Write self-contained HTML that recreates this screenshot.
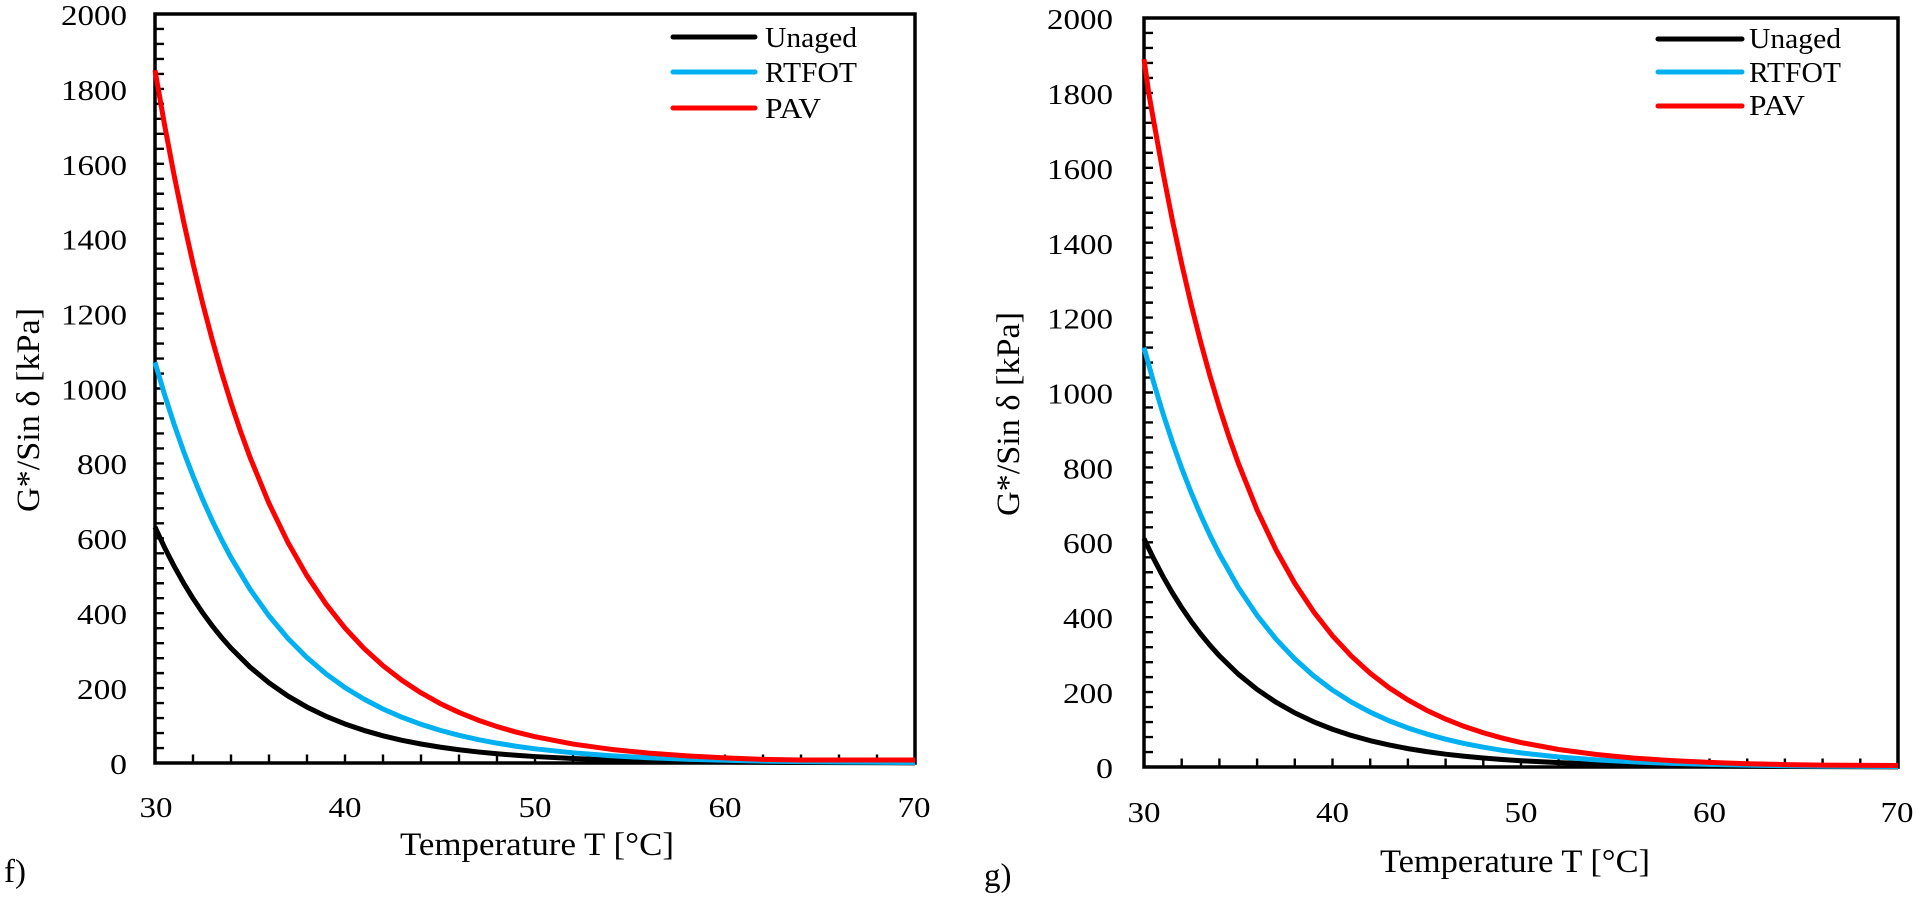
<!DOCTYPE html>
<html>
<head>
<meta charset="utf-8">
<style>
  html, body { margin: 0; padding: 0; background: #ffffff; }
  svg { display: block; }
  text { font-family: "Liberation Serif", "Times New Roman", serif; fill: #000; }
</style>
</head>
<body>
<svg width="1916" height="902" viewBox="0 0 1916 902" xmlns="http://www.w3.org/2000/svg">
  <rect x="0" y="0" width="1916" height="902" fill="#ffffff"/>

  <!-- ================= LEFT PLOT (f) ================= -->
  <path d="M159.5 763 V14" stroke="#000" stroke-width="9" fill="none" stroke-dasharray="2.4 12.58" stroke-dashoffset="1.2"/>
  <path d="M155 758.5 H915" stroke="#000" stroke-width="8" fill="none" stroke-dasharray="2.4 35.6" stroke-dashoffset="1.2"/>
  <rect x="155" y="14" width="760" height="749" fill="none" stroke="#000" stroke-width="3.5"/>

  <g transform="translate(155,763) scale(19,-0.3745)" fill="none" stroke-width="5" stroke-linejoin="round">
    <path vector-effect="non-scaling-stroke" stroke="#000000"
      d="M0 630 L0.5 575.8 L1 526.2 L1.5 480.9 L2 439.5 L2.5 401.7 L3 367.1 L3.5 335.5 L4 306.7 L5 256.2 L6 214 L7 178.7 L8 149.3 L9 124.7 L10 104.2 L11 87 L12 72.7 L13 60.7 L14 50.7 L15 42.4 L16 35.4 L17 29.5 L18 24.7 L19 20.6 L20 17.2 L22 12 L24 8.4 L26 5.8 L28 4.1 L30 2.8 L34 1.4 L40 0.5"/>
    <path vector-effect="non-scaling-stroke" stroke="#00b0f0"
      d="M0 1070 L0.5 984.3 L1 905.4 L1.5 832.9 L2 766.2 L2.5 704.8 L3 648.4 L3.5 596.5 L4 548.6 L5 464.2 L6 392.8 L7 332.4 L8 281.3 L9 238 L10 201.4 L11 170.5 L12 144.2 L13 122.1 L14 103.3 L15 87.4 L16 74 L17 62.6 L18 53 L19 44.8 L20 37.9 L22 27.2 L24 19.5 L26 13.9 L28 10 L30 7.2 L32 5.1 L34 3.7 L36 2.6 L38 1.9 L40 1.3"/>
    <path vector-effect="non-scaling-stroke" stroke="#ff0000"
      d="M0 1850 L0.5 1704.7 L1 1570.8 L1.5 1447.4 L2 1333.7 L2.5 1228.9 L3 1132.4 L3.5 1043.4 L4 961.5 L4.5 886 L5 816.4 L6 693.2 L7 588.6 L8 499.8 L9 424.4 L10 360.3 L11 305.9 L12 259.8 L13 220.6 L14 187.3 L15 159 L16 135 L17 114.6 L18 97.3 L19 82.6 L20 70.2 L22 50.6 L24 36.5 L26 26.3 L28 18.9 L30 13.6 L32 9.8 L34 8 L40 8"/>
  </g>

  <g font-size="29" text-anchor="end">
    <text x="127" y="774" textLength="17" lengthAdjust="spacingAndGlyphs">0</text>
    <text x="127" y="699" textLength="50" lengthAdjust="spacingAndGlyphs">200</text>
    <text x="127" y="624" textLength="50" lengthAdjust="spacingAndGlyphs">400</text>
    <text x="127" y="549" textLength="50" lengthAdjust="spacingAndGlyphs">600</text>
    <text x="127" y="474" textLength="50" lengthAdjust="spacingAndGlyphs">800</text>
    <text x="127" y="399.5" textLength="66" lengthAdjust="spacingAndGlyphs">1000</text>
    <text x="127" y="324.6" textLength="66" lengthAdjust="spacingAndGlyphs">1200</text>
    <text x="127" y="249.7" textLength="66" lengthAdjust="spacingAndGlyphs">1400</text>
    <text x="127" y="174.8" textLength="66" lengthAdjust="spacingAndGlyphs">1600</text>
    <text x="127" y="99.9" textLength="66" lengthAdjust="spacingAndGlyphs">1800</text>
    <text x="127" y="25" textLength="66" lengthAdjust="spacingAndGlyphs">2000</text>
  </g>
  <g font-size="29" text-anchor="middle">
    <text x="156" y="817" textLength="33" lengthAdjust="spacingAndGlyphs">30</text>
    <text x="345" y="817" textLength="33" lengthAdjust="spacingAndGlyphs">40</text>
    <text x="535" y="817" textLength="33" lengthAdjust="spacingAndGlyphs">50</text>
    <text x="725" y="817" textLength="33" lengthAdjust="spacingAndGlyphs">60</text>
    <text x="914" y="817" textLength="33" lengthAdjust="spacingAndGlyphs">70</text>
  </g>
  <text x="537" y="855" font-size="33" text-anchor="middle" textLength="274" lengthAdjust="spacingAndGlyphs">Temperature T [°C]</text>
  <text transform="translate(39,410) rotate(-90)" x="0" y="0" font-size="33" text-anchor="middle" textLength="204" lengthAdjust="spacingAndGlyphs">G*/Sin δ [kPa]</text>
  <text x="4" y="882" font-size="33">f)</text>

  <g stroke-width="5" stroke-linecap="round">
    <line x1="673" y1="37" x2="755" y2="37" stroke="#000000"/>
    <line x1="673" y1="72" x2="755" y2="72" stroke="#00b0f0"/>
    <line x1="673" y1="108" x2="755" y2="108" stroke="#ff0000"/>
  </g>
  <g font-size="29">
    <text x="765" y="47" textLength="92" lengthAdjust="spacingAndGlyphs">Unaged</text>
    <text x="765" y="82" textLength="92" lengthAdjust="spacingAndGlyphs">RTFOT</text>
    <text x="765" y="118" textLength="56" lengthAdjust="spacingAndGlyphs">PAV</text>
  </g>

  <!-- ================= RIGHT PLOT (g) ================= -->
  <path d="M1148.5 767 V18" stroke="#000" stroke-width="9" fill="none" stroke-dasharray="2.4 12.58" stroke-dashoffset="1.2"/>
  <path d="M1144 762.5 H1898" stroke="#000" stroke-width="8" fill="none" stroke-dasharray="2.4 35.3" stroke-dashoffset="1.2"/>
  <rect x="1144" y="18" width="754" height="749" fill="none" stroke="#000" stroke-width="3.5"/>

  <g transform="translate(1144,767) scale(18.85,-0.3745)" fill="none" stroke-width="5" stroke-linejoin="round">
    <path vector-effect="non-scaling-stroke" stroke="#000000"
      d="M0 610 L0.5 557.5 L1 509.5 L1.5 465.6 L2 425.6 L2.5 389 L3 355.5 L3.5 324.9 L4 296.9 L5 248 L6 207.2 L7 173 L8 144.5 L9 120.7 L10 100.8 L11 84.2 L12 70.4 L13 58.8 L14 49.1 L15 41 L16 34.2 L17 28.6 L18 23.9 L19 20 L20 16.7 L22 11.6 L24 8.1 L26 5.7 L28 3.9 L30 2.8 L34 1.3 L40 0.4"/>
    <path vector-effect="non-scaling-stroke" stroke="#00b0f0"
      d="M0 1120 L0.5 1028.9 L1 945.3 L1.5 868.4 L2 797.8 L2.5 732.9 L3 673.4 L3.5 618.6 L4 568.3 L5 479.7 L6 404.8 L7 341.7 L8 288.4 L9 243.4 L10 205.4 L11 173.4 L12 146.3 L13 123.5 L14 104.2 L15 88 L16 74.2 L17 62.7 L18 52.9 L19 44.6 L20 37.7 L22 26.8 L24 19.1 L26 13.6 L28 9.7 L30 6.9 L32 4.9 L34 3.5 L36 2.5 L40 1.3"/>
    <path vector-effect="non-scaling-stroke" stroke="#ff0000"
      d="M0 1890 L0.25 1800 L0.5 1728.5 L1 1589.3 L1.5 1461.3 L2 1343.5 L2.5 1235.3 L3 1135.8 L3.5 1044.3 L4 960.1 L4.5 882.7 L5 811.7 L6 686.2 L7 580.1 L8 490.4 L9 414.5 L10 350.4 L11 296.3 L12 250.4 L13 211.7 L14 179 L15 151.3 L16 127.9 L17 108.1 L18 91.4 L19 77.3 L20 65.3 L22 46.7 L24 33.4 L26 23.8 L28 17 L30 12.2 L32 8.7 L34 6.5 L36 5 L40 4"/>
  </g>

  <g font-size="29" text-anchor="end">
    <text x="1113" y="778" textLength="17" lengthAdjust="spacingAndGlyphs">0</text>
    <text x="1113" y="703" textLength="50" lengthAdjust="spacingAndGlyphs">200</text>
    <text x="1113" y="628" textLength="50" lengthAdjust="spacingAndGlyphs">400</text>
    <text x="1113" y="553" textLength="50" lengthAdjust="spacingAndGlyphs">600</text>
    <text x="1113" y="478.5" textLength="50" lengthAdjust="spacingAndGlyphs">800</text>
    <text x="1113" y="403.6" textLength="66" lengthAdjust="spacingAndGlyphs">1000</text>
    <text x="1113" y="328.7" textLength="66" lengthAdjust="spacingAndGlyphs">1200</text>
    <text x="1113" y="253.8" textLength="66" lengthAdjust="spacingAndGlyphs">1400</text>
    <text x="1113" y="178.9" textLength="66" lengthAdjust="spacingAndGlyphs">1600</text>
    <text x="1113" y="104" textLength="66" lengthAdjust="spacingAndGlyphs">1800</text>
    <text x="1113" y="29" textLength="66" lengthAdjust="spacingAndGlyphs">2000</text>
  </g>
  <g font-size="29" text-anchor="middle">
    <text x="1144" y="822" textLength="33" lengthAdjust="spacingAndGlyphs">30</text>
    <text x="1332.5" y="822" textLength="33" lengthAdjust="spacingAndGlyphs">40</text>
    <text x="1521" y="822" textLength="33" lengthAdjust="spacingAndGlyphs">50</text>
    <text x="1709.5" y="822" textLength="33" lengthAdjust="spacingAndGlyphs">60</text>
    <text x="1897" y="822" textLength="33" lengthAdjust="spacingAndGlyphs">70</text>
  </g>
  <text x="1515" y="872" font-size="33" text-anchor="middle" textLength="270" lengthAdjust="spacingAndGlyphs">Temperature T [°C]</text>
  <text transform="translate(1019,414) rotate(-90)" x="0" y="0" font-size="33" text-anchor="middle" textLength="204" lengthAdjust="spacingAndGlyphs">G*/Sin δ [kPa]</text>
  <text x="984" y="886" font-size="33">g)</text>

  <g stroke-width="5" stroke-linecap="round">
    <line x1="1658" y1="39" x2="1742" y2="39" stroke="#000000"/>
    <line x1="1658" y1="72" x2="1742" y2="72" stroke="#00b0f0"/>
    <line x1="1658" y1="106" x2="1742" y2="106" stroke="#ff0000"/>
  </g>
  <g font-size="29">
    <text x="1749" y="48" textLength="92" lengthAdjust="spacingAndGlyphs">Unaged</text>
    <text x="1749" y="82" textLength="92" lengthAdjust="spacingAndGlyphs">RTFOT</text>
    <text x="1749" y="115" textLength="56" lengthAdjust="spacingAndGlyphs">PAV</text>
  </g>
</svg>
</body>
</html>
